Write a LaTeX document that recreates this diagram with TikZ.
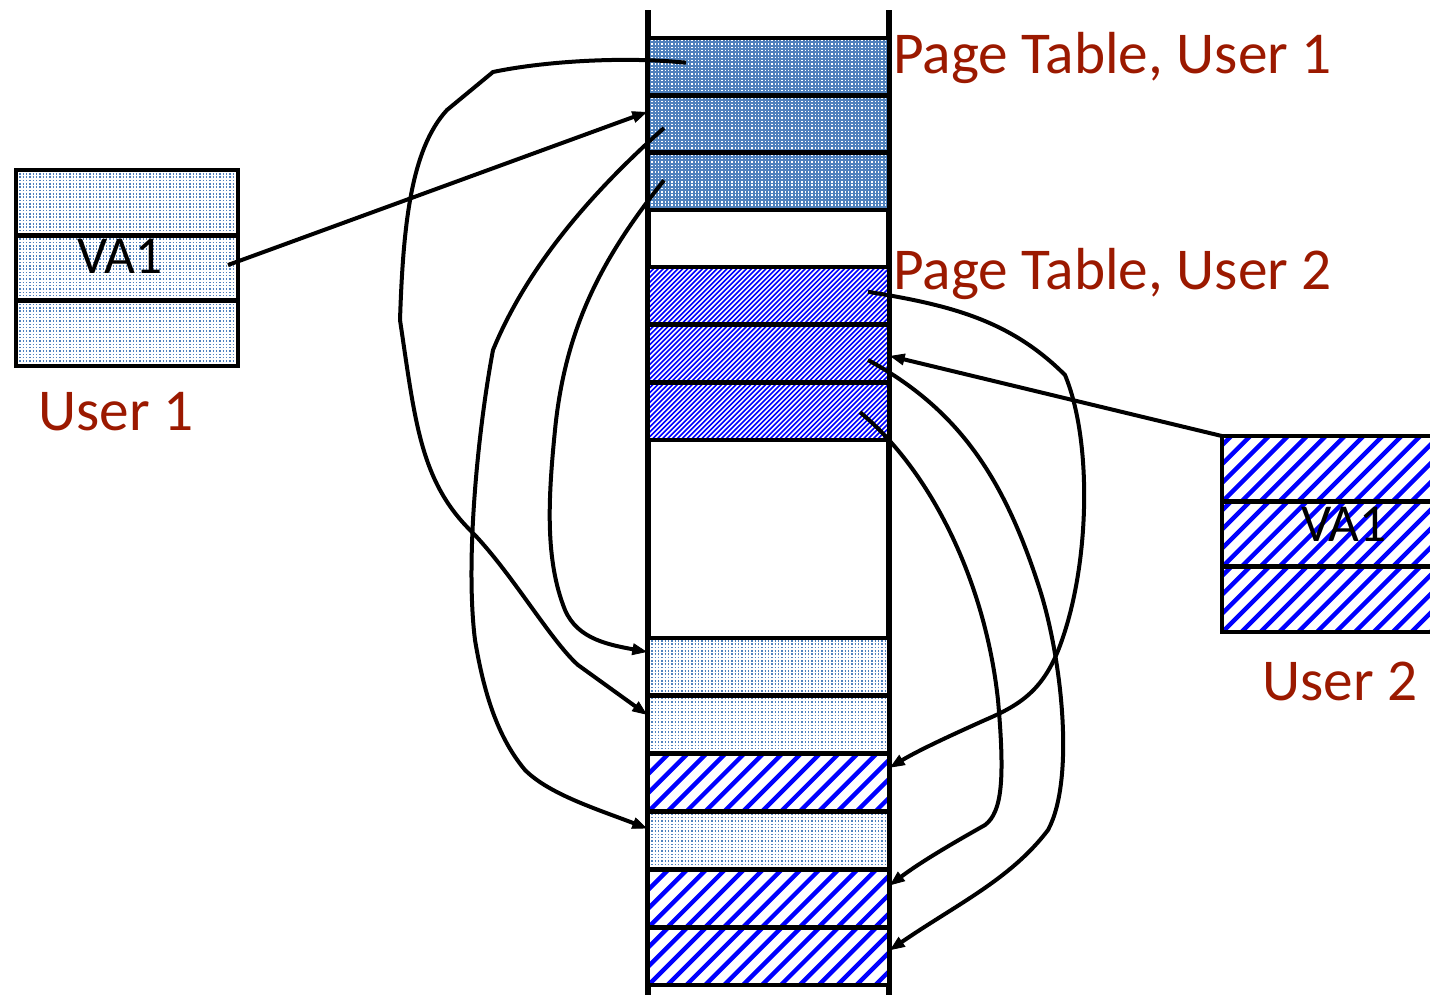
\documentclass[tikz,border=0pt]{standalone}
\usepackage{fontspec}
\setmainfont{Carlito}
\usetikzlibrary{arrows.meta,calc}
\definecolor{steel}{RGB}{79,129,189}
\definecolor{labelred}{RGB}{155,25,0}
\definecolor{hatchblue}{RGB}{0,0,255}

\tikzset{
  cellsize/.style={inner sep=0pt, outer sep=0pt,
    minimum width=180.75pt, minimum height=43.25pt},
  blank/.style={fill=white, inner sep=0pt, outer sep=0pt},
  connector/.style={draw=black, line width=3pt, shorten >=7pt},
  tiphead/.style={draw=black, line width=0.6pt,
    -{Triangle[length=11pt,width=9pt]}},
  caption/.style={text=labelred, font=\fontsize{44.5}{50}\selectfont,
    inner sep=0pt, anchor=base west},
  vatext/.style={font=\fontsize{40}{46}\selectfont, inner sep=0pt, anchor=base}
}

% diagonal blue hatching inside a node, then its black frame
% #1 node, #2 horizontal spacing of the stripes, #3 stripe width
\newcommand\hatchcell[3]{%
  \begin{scope}
    \clip (#1.south west) rectangle (#1.north east);
    \foreach \k in {0,...,66}
      \draw[hatchblue, line width=#3] ($(#1.south west)+(\k*#2-75,0)$) -- ++(80,-80);
  \end{scope}
  \draw[line width=3.5pt] (#1.south west) rectangle (#1.north east);
}

% grid of small dots inside a node, then its black frame
% #1 node, #2 dot colour
\newcommand\dotcell[2]{%
  \begin{scope}
    \clip (#1.south west) rectangle (#1.north east);
    \foreach \r in {0,...,20}
      \draw[#2, line width=1.1pt, dash pattern=on 1.1pt off 1.4pt]
        ($(#1.south west)+(0,-\r*3.33-1.6)$) -- ++(260,0);
  \end{scope}
  \draw[line width=3.5pt] (#1.south west) rectangle (#1.north east);
}

\begin{document}
\begin{tikzpicture}[x=0.75pt,y=-0.75pt]
\useasboundingbox (0,0) rectangle (1430,997);

% physical memory column
\draw[line width=4pt] (648,10) -- (648,995);
\draw[line width=4pt] (889,10) -- (889,995);

% page table of user 1
\node[cellsize,fill=steel] (p1a) at (768.5,66.7) {};
\node[cellsize,fill=steel] (p1b) at (768.5,124) {};
\node[cellsize,fill=steel] (p1c) at (768.5,181.3) {};
\dotcell{p1a}{white}
\dotcell{p1b}{white}
\dotcell{p1c}{white}

% page table of user 2
\node[cellsize,blank] (p2a) at (768.5,295.8) {};
\node[cellsize,blank] (p2b) at (768.5,353.5) {};
\node[cellsize,blank] (p2c) at (768.5,411.2) {};
\hatchcell{p2a}{4.9}{1.2pt}
\hatchcell{p2b}{4.9}{1.2pt}
\hatchcell{p2c}{4.9}{1.2pt}

% data pages
\node[cellsize,blank] (m1) at (768.5,666.9) {};
\node[cellsize,blank] (m2) at (768.5,724.75) {};
\node[cellsize,blank] (m3) at (768.5,782.6) {};
\node[cellsize,blank] (m4) at (768.5,840.4) {};
\node[cellsize,blank] (m5) at (768.5,898.25) {};
\node[cellsize,blank] (m6) at (768.5,956.1) {};
\dotcell{m1}{steel}
\dotcell{m2}{steel}
\hatchcell{m3}{18.9}{3.3pt}
\dotcell{m4}{steel}
\hatchcell{m5}{18.9}{3.3pt}
\hatchcell{m6}{18.9}{3.3pt}

% virtual address space of user 1
\node[blank,minimum width=166.5pt,minimum height=49pt] (u1a) at (127,202.7) {};
\node[blank,minimum width=166.5pt,minimum height=49pt] (u1b) at (127,268) {};
\node[blank,minimum width=166.5pt,minimum height=49pt] (u1c) at (127,333.3) {};
\dotcell{u1a}{steel}
\dotcell{u1b}{steel}
\dotcell{u1c}{steel}
\node[vatext] (va1) at (120,273) {VA1};

% virtual address space of user 2
\node[blank,minimum width=178.5pt,minimum height=49pt] (u2a) at (1341,468.7) {};
\node[blank,minimum width=178.5pt,minimum height=49pt] (u2b) at (1341,534) {};
\node[blank,minimum width=178.5pt,minimum height=49pt] (u2c) at (1341,599.3) {};
\hatchcell{u2a}{18.9}{3.3pt}
\hatchcell{u2b}{18.9}{3.3pt}
\hatchcell{u2c}{18.9}{3.3pt}
\node[vatext] (va2) at (1344,541) {VA1};

% labels
\node[caption] (l1) at (893,73) {Page Table, User 1};
\node[caption] (l2) at (893,289) {Page Table, User 2};
\node[caption] (l3) at (38,430) {User 1};
\node[caption] (l4) at (1262,700) {User 2};

% connector ends
\coordinate (s0) at ($(u1b.east)+(-10,-3)$);
\coordinate (s1) at ($(p1a.west)+(38,-4)$);
\coordinate (s2) at ($(p1b.west)+(16,4)$);
\coordinate (s3) at ($(p1c.west)+(16,-1)$);
\coordinate (s4) at (u2a.north west);
\coordinate (t1) at ($(p2a.east)+(-21,-4)$);
\coordinate (t2) at ($(p2b.east)+(-21,6.5)$);
\coordinate (t3) at ($(p2c.east)+(-29,1)$);
\coordinate (e0) at ($(p1b.west)+(-1,-12)$);
\coordinate (e1) at ($(m2.west)+(-1,-10)$);
\coordinate (e2) at ($(m4.west)+(-1,-12)$);
\coordinate (e3) at ($(m1.west)+(-1,-15)$);
\coordinate (e4) at ($(m3.east)+(1,-15)$);
\coordinate (e5) at ($(m6.east)+(1,-6)$);
\coordinate (e6) at ($(m5.east)+(1,-13)$);
\coordinate (f0) at ($(p2b.east)+(1,2.5)$);

% address translation, user 1
\draw[connector] (s0) -- (e0);
\draw[connector] (s1) .. controls (620,56) and (540,62) .. (493,72) -- (447,110)
  .. controls (410,150) and (403,230) .. (400,320)
  .. controls (415,420) and (420,480) .. (470,530)
  .. controls (510,570) and (550,640) .. (578,665) -- (e1);
\draw[connector] (s2) .. controls (600,185) and (530,260) .. (493,350)
  .. controls (478,430) and (465,560) .. (475,640)
  .. controls (485,700) and (500,740) .. (525,770)
  .. controls (550,795) and (600,810) .. (e2);
\draw[connector] (s3) .. controls (600,260) and (565,330) .. (555,430)
  .. controls (548,500) and (545,560) .. (565,610)
  .. controls (578,640) and (610,645) .. (e3);

% address translation, user 2
\draw[connector] (s4) -- (f0);
\draw[connector] (t1) .. controls (950,305) and (1010,320) .. (1065,375)
  .. controls (1092,440) and (1090,560) .. (1062,640)
  .. controls (1045,690) and (1020,705) .. (985,720)
  .. controls (945,738) and (915,752) .. (e4);
\draw[connector] (t2) .. controls (960,410) and (1005,480) .. (1040,590)
  .. controls (1062,660) and (1075,780) .. (1048,830)
  .. controls (1010,880) and (955,905) .. (e5);
\draw[connector] (t3) .. controls (930,470) and (985,580) .. (998,700)
  .. controls (1005,780) and (1002,812) .. (985,825)
  .. controls (955,842) and (920,862) .. (e6);

% arrowheads at the ends of the connectors
\draw[tiphead] ($(e0)!14pt!(s0)$) -- (e0);
\draw[tiphead] ($(e1)!14pt!(578,665)$) -- (e1);
\draw[tiphead] ($(e2)!14pt!(600,810)$) -- (e2);
\draw[tiphead] ($(e3)!14pt!(610,645)$) -- (e3);
\draw[tiphead] ($(f0)!14pt!(s4)$) -- (f0);
\draw[tiphead] ($(e4)!14pt!(915,752)$) -- (e4);
\draw[tiphead] ($(e5)!14pt!(955,905)$) -- (e5);
\draw[tiphead] ($(e6)!14pt!(920,862)$) -- (e6);
\end{tikzpicture}
\end{document}
